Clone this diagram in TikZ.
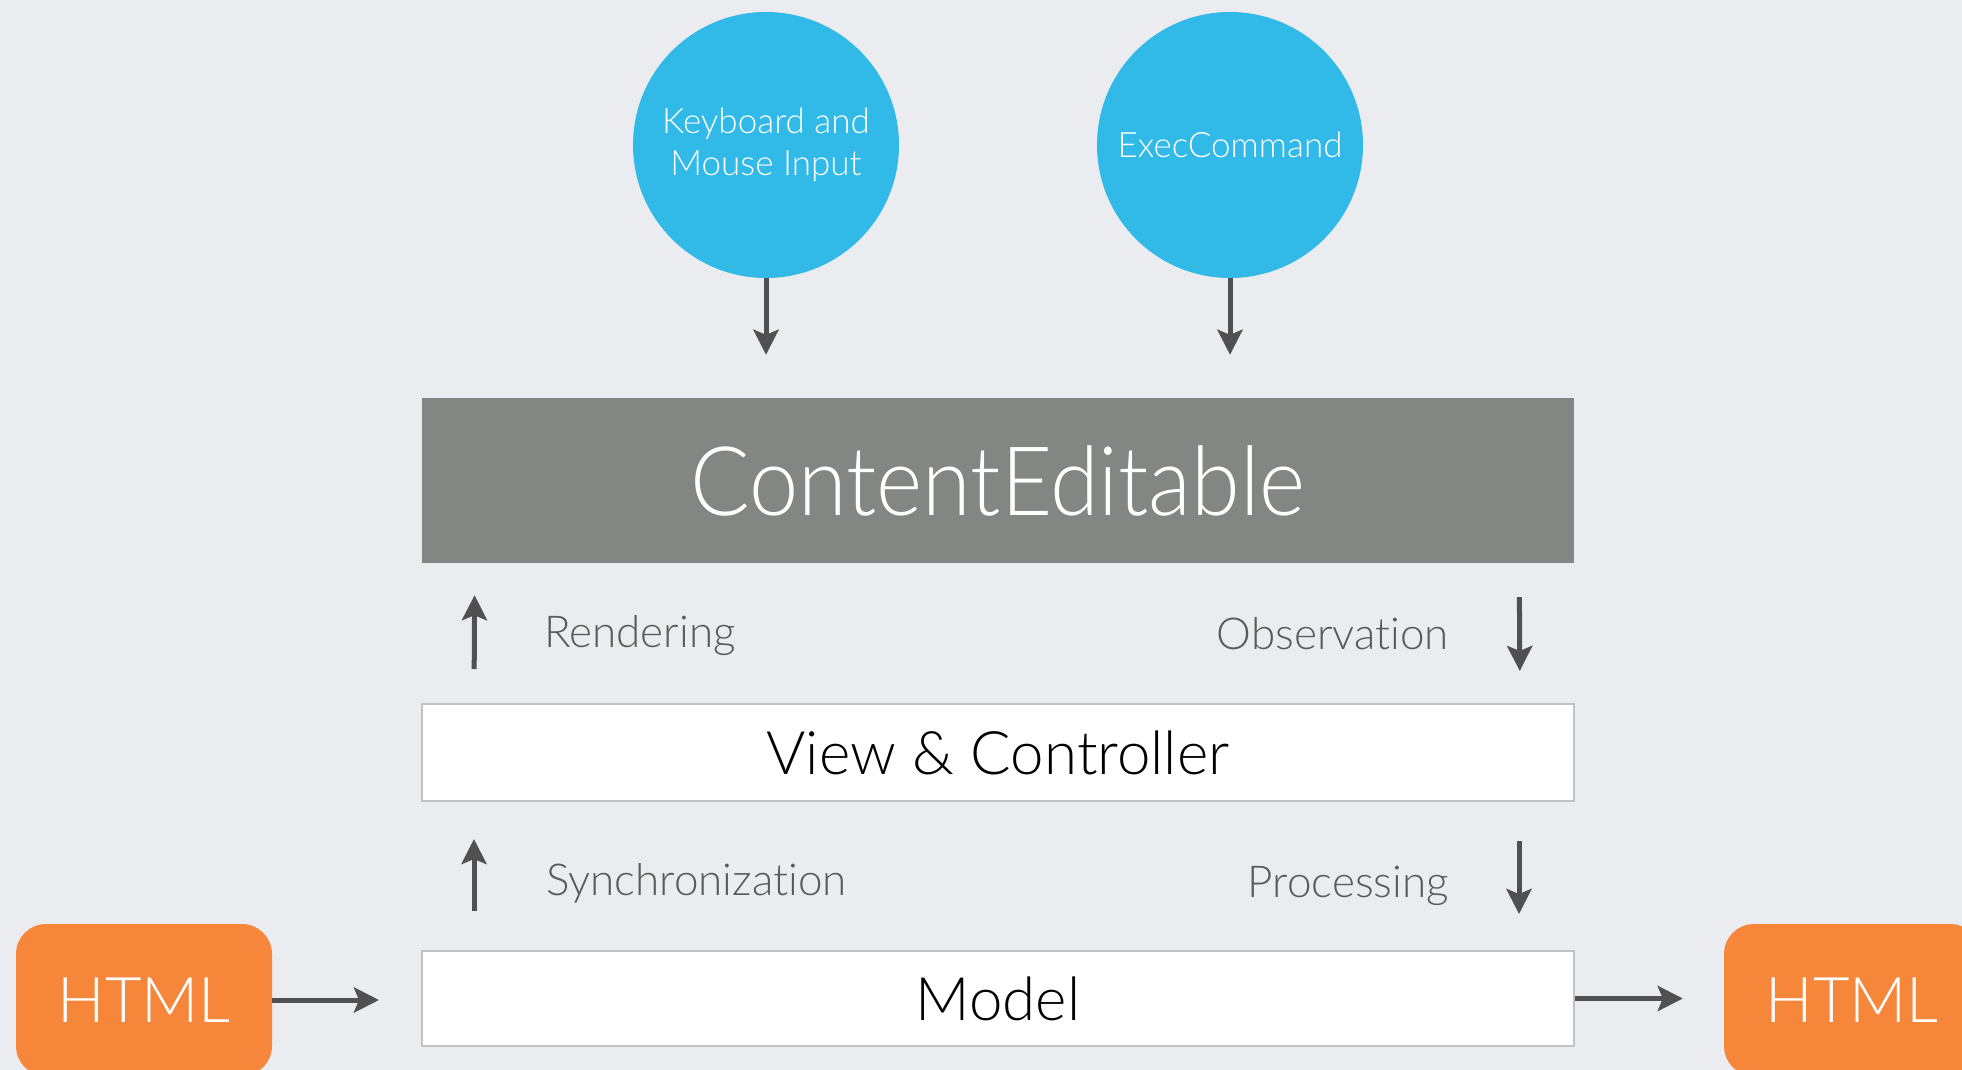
\documentclass[tikz,border=0pt]{standalone}
\usepackage{fontspec}
\setmainfont{Lato}[UprightFont=* Light, Ligatures=CommonOff]
\newfontfamily\cefont{Lato}[UprightFont=* Light, FakeStretch=0.92]
\usetikzlibrary{arrows.meta}
\definecolor{bgcol}{HTML}{EBECEF}
\definecolor{bubblecol}{HTML}{31B9E8}
\definecolor{cecol}{HTML}{828784}
\definecolor{htmlcol}{HTML}{F6873A}
\definecolor{arrowcol}{HTML}{505050}
\definecolor{edgecol}{HTML}{C2C2C2}
\definecolor{labelcol}{HTML}{5A5A5A}

\tikzset{
  bubble/.style={circle, fill=bubblecol, minimum size=266pt, inner sep=0pt,
    text=white, align=center, font=\fontsize{35}{42}\selectfont},
  layer/.style={rectangle, minimum width=1152pt, inner sep=0pt},
  htmlbox/.style={rectangle, rounded corners=30pt, fill=htmlcol, minimum width=256pt,
    minimum height=152pt, text=white, font=\fontsize{63}{70}\selectfont},
  flow/.style={draw=arrowcol, line width=5pt, -{Stealth[length=25pt,width=25pt,inset=5pt]}},
  steplabel/.style={text=labelcol, inner sep=0pt, font=\fontsize{44}{50}\selectfont}
}

\begin{document}
\begin{tikzpicture}[x=1pt,y=-1pt]
\clip (0,0) rectangle (1962,1070);
\fill[bgcol] (0,0) rectangle (1962,1070);

% inputs
\node[bubble] (kbd) at (766,145) {Keyboard and\\Mouse Input};
\node[bubble] (exec) at (1230,145) {ExecCommand};

% layers
\node[layer, fill=cecol, minimum height=165pt, text=white,
  font=\cefont\fontsize{96}{110}\selectfont] (ce) at (998,480.5) {ContentEditable};
\node[layer, fill=white, draw=edgecol, line width=2pt, minimum height=97pt,
  font=\fontsize{60}{70}\selectfont] (view) at (998,752.5) {View \& Controller};
\node[layer, fill=white, draw=edgecol, line width=2pt, minimum height=95pt,
  font=\fontsize{60}{70}\selectfont] (model) at (998,998.5) {Model};

% html in and out
\node[htmlbox] (htmlin) at (144,1000) {HTML};
\node[htmlbox] (htmlout) at (1852,1000) {HTML};

% labels
\node[steplabel, anchor=base west] (rend) at (544,647) {Rendering};
\node[steplabel, anchor=base east] (obs) at (1449,649) {Observation};
\node[steplabel, anchor=base west] (sync) at (546,895) {Synchronization};
\node[steplabel, anchor=base east] (proc) at (1449,897) {Processing};

% arrows
\draw[flow, shorten >=43pt] (kbd.south) -- (kbd.south |- ce.north);
\draw[flow, shorten >=43pt] (exec.south) -- (exec.south |- ce.north);
\draw[flow, shorten <=34pt, shorten >=32pt] ([xshift=53pt]view.north west) -- ([xshift=53pt]ce.south west);
\draw[flow, shorten <=34pt, shorten >=32pt] ([xshift=-55pt]ce.south east) -- ([xshift=-55pt]view.north east);
\draw[flow, shorten <=39pt, shorten >=37pt] ([xshift=53pt]model.north west) -- ([xshift=53pt]view.south west);
\draw[flow, shorten <=39pt, shorten >=36pt] ([xshift=-56pt]view.south east) -- ([xshift=-56pt]model.north east);
\draw[flow, shorten >=42pt] (htmlin.east) -- (htmlin.east -| model.west);
\draw[flow, shorten >=41pt] (model.east) -- (model.east -| htmlout.west);
\end{tikzpicture}
\end{document}
